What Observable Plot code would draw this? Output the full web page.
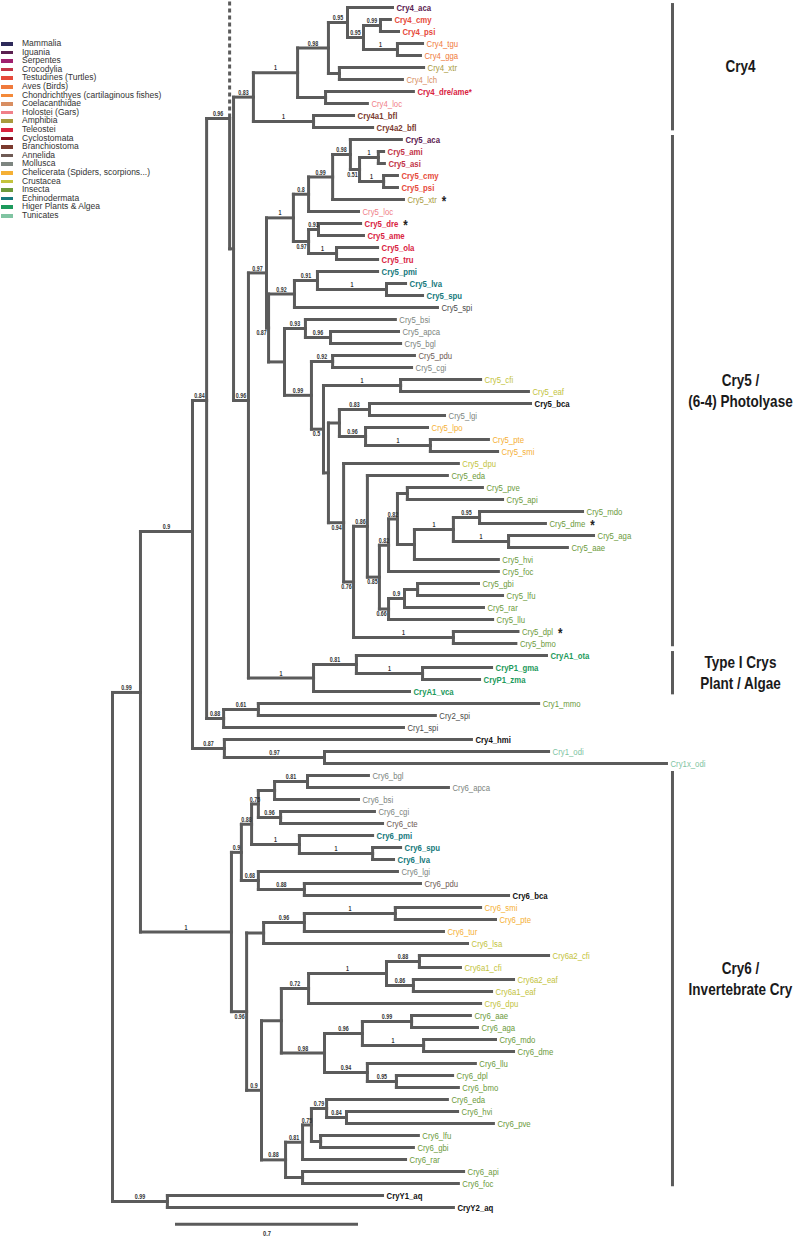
<!DOCTYPE html>
<html><head><meta charset="utf-8">
<script src="https://cdn.jsdelivr.net/npm/d3@7"></script>
<script src="https://cdn.jsdelivr.net/npm/@observablehq/plot@0.6"></script>
<style>
body{margin:0;background:#fff;}
#wrap{position:relative;width:800px;height:1238px;overflow:hidden;}
#legend{position:absolute;left:0;top:0;font-family:'Liberation Sans',Arial,sans-serif;font-size:8.5px;color:#333;}
.lg{position:absolute;left:0;white-space:nowrap;height:9px;line-height:9px;}
.sw{position:absolute;left:1px;top:3px;width:12px;height:3.5px;}
.lt{position:absolute;left:22px;top:0;}
</style></head><body><div id="wrap"><div id="legend"></div></div>
<script>
// ---- legend ----
const legendNames = ["Mammalia","Iguania","Serpentes","Crocodylia","Testudines (Turtles)","Aves (Birds)","Chondrichthyes (cartilaginous fishes)","Coelacanthidae","Holostei (Gars)","Amphibia","Teleostei","Cyclostomata","Branchiostoma","Annelida","Mollusca","Chelicerata (Spiders, scorpions...)","Crustacea","Insecta","Echinodermata","Higer Plants & Algea","Tunicates"];
const groupKeys = ["Mammalia","Iguania","Serpentes","Crocodylia","Testudines","Aves","Chondrichthyes","Coelacanthidae","Holostei","Amphibia","Teleostei","Cyclostomata","Branchiostoma","Annelida","Mollusca","Chelicerata","Crustacea","Insecta","Echinodermata","Plants","Tunicates","Other","Black"];
const groupColors = ["#2e2a5a","#5a2050","#a0206e","#c23447","#e64a3a","#f07a3c","#f48a3a","#d88e62","#f08088","#a89a3e","#d9233f","#8a1020","#7b3a2e","#6f5b55","#7d8580","#f5b035","#c3c33c","#6c9a3c","#16797c","#1d9a5c","#80c4a2","#4a4a4a","#111111"];
const boldGroups = ["Iguania","Crocodylia","Testudines","Teleostei","Echinodermata","Plants","Black","Branchiostoma"];

// ---- internal nodes: [id, parent, distance from root, support, label placement] ----
const nodeRows = [
["A","root",0.107,"0.99","a"],["NY","root",0.210,"0.99","a"],
["N192","A",0.306,"0.9","a"],["C6","A",0.455,"1","a"],
["N206","N192",0.360,"0.84","a"],["K87","N192",0.428,"0.87","a"],
["D","N206",0.448,"0.96","a"],["K88","N206",0.425,"0.88","a"],
["N233","D",0.463,"",""],
["C4","N233",0.539,"0.83","a"],["N248","N233",0.520,"0.96","a"],
["P","N248",0.589,"0.97","a"],["TI","N248",0.769,"1","a"],
["C4a","C4",0.708,"1","a"],["C4i","C4",0.769,"1","a"],
["C4b","C4a",0.826,"0.98","a"],["C4h","C4a",0.815,"",""],
["C4c","C4b",0.899,"0.95","a"],["C4g","C4b",0.868,"",""],
["C4d","C4c",0.960,"0.95","a"],["C4e","C4d",1.025,"0.99","a"],["C4f","C4d",1.090,"1","a"],
["V5","P",0.692,"1","a"],["Q","P",0.597,"0.87","b"],
["V5a","V5",0.750,"0.8","a"],["V5g","V5",0.750,"0.97","b"],
["V5b","V5a",0.842,"0.99","a"],["V5c","V5b",0.910,"0.98","a"],["V5d","V5c",0.945,"0.51","b"],
["V5e","V5d",1.017,"1","a"],["V5f","V5d",1.037,"1","a"],
["V5h","V5g",0.788,"0.93","a"],["V5i","V5g",0.857,"1","a"],
["E1","Q",0.696,"0.92","a"],["R","Q",0.658,"",""],
["E2","E1",0.784,"0.91","a"],["E3","E2",1.048,"1","a"],
["M1","R",0.738,"0.93","a"],["I0","R",0.761,"0.99","a"],["M2","M1",0.834,"0.96","a"],
["I1","I0",0.842,"0.92","a"],["I2","I0",0.807,"0.5","b"],["I3","I2",1.102,"1","a"],
["T","I2",0.826,"",""],["U","T",0.868,"",""],["V","T",0.884,"0.94","b"],
["U1","U",0.983,"0.83","a"],["U2","U",0.968,"0.96","a"],["U3","U2",1.216,"1","a"],
["W","V",0.922,"0.76","b"],["N86","W",0.975,"0.86","a"],["Ndb","W",1.304,"1","a"],
["N85","N86",1.021,"0.85","b"],["N82a","N85",1.056,"0.82","a"],["N66","N85",1.056,"0.66","b"],
["N82b","N82a",1.090,"0.82","a"],["Npa","N82b",1.128,"",""],["Nd","N82b",1.155,"",""],
["Nd1","Nd",1.304,"1","a"],["Nd2","Nd1",1.404,"0.95","a"],["Nd3","Nd1",1.515,"1","a"],
["N9","N66",1.117,"0.9","a"],["Ngl","N9",1.167,"",""],
["TI1","TI",0.933,"0.81","a"],["TI2","TI1",1.186,"1","a"],
["K61","K88",0.558,"0.61","a"],["K97","K87",0.811,"0.97","a"],
["C6a","C6",0.493,"0.9","a"],["C6k","C6",0.513,"0.96","b"],
["C6b","C6a",0.532,"0.88","a"],["C6i","C6a",0.558,"0.68","a"],
["C6c","C6b",0.558,"0.75","a"],["C6g","C6b",0.715,"1","a"],
["C6d","C6c",0.620,"",""],["C6f","C6c",0.643,"0.96","a"],["C6e","C6d",0.746,"0.81","a"],
["C6h","C6g",0.995,"1","a"],["C6j","C6i",0.734,"0.88","a"],
["C6l","C6k",0.578,"",""],["C6o","C6k",0.570,"0.9","a"],
["C6m","C6l",0.734,"0.96","a"],["C6n","C6m",1.082,"1","a"],
["C6p","C6o",0.646,"",""],["C6aa","C6o",0.662,"0.88","a"],
["C6q","C6p",0.750,"0.72","a"],["C6u","C6p",0.811,"0.98","a"],
["C6r","C6q",1.048,"1","a"],["C6s","C6r",1.174,"0.88","a"],["C6t","C6r",1.151,"0.86","a"],
["C6v","C6u",0.956,"0.96","a"],["C6y","C6u",0.975,"0.94","a"],
["C6w","C6v",1.144,"0.99","a"],["C6x","C6v",1.190,"1","a"],["C6z","C6y",1.086,"0.95","a"],
["C6ab","C6aa",0.727,"0.81","a"],["C6ag","C6aa",0.727,"",""],
["C6ac","C6ab",0.761,"0.75","a"],["C6ad","C6ac",0.819,"0.79","a"],["C6af","C6ac",0.796,"",""],
["C6ae","C6ad",0.895,"0.84","a"]
];
const pinnedRows = [["D",9.25],["N248",32.75],["N206",32.75],["N192",43.67],["A",57.08]];
// the branch that continues (dashed) to the cut-off part of the tree
const cutNodes = ["D"];

// ---- leaves (top to bottom): [name, group, parent, distance from root, star] ----
const leafRows = [
["Cry4_aca","Iguania","C4c",1.071],["Cry4_cmy","Testudines","C4e",1.063],["Cry4_psi","Testudines","C4e",1.094],
["Cry4_tgu","Aves","C4f",1.186],["Cry4_gga","Aves","C4f",1.178],["Cry4_xtr","Amphibia","C4g",1.190],
["Cry4_lch","Coelacanthidae","C4g",1.109],["Cry4_dre/ame*","Teleostei","C4h",1.151],["Cry4_loc","Holostei","C4h",0.975],
["Cry4a1_bfl","Branchiostoma","C4i",0.922],["Cry4a2_bfl","Branchiostoma","C4i",0.995],
["Cry5_aca","Iguania","V5c",1.105],["Cry5_ami","Crocodylia","V5e",1.037],["Cry5_asi","Crocodylia","V5e",1.040],
["Cry5_cmy","Testudines","V5f",1.090],["Cry5_psi","Testudines","V5f",1.090],["Cry5_xtr","Amphibia","V5b",1.113,1],
["Cry5_loc","Holostei","V5a",0.941],["Cry5_dre","Teleostei","V5h",0.949,1],["Cry5_ame","Teleostei","V5h",0.960],
["Cry5_ola","Teleostei","V5i",1.014],["Cry5_tru","Teleostei","V5i",1.014],
["Cry5_pmi","Echinodermata","E2",1.014],["Cry5_lva","Echinodermata","E3",1.121],["Cry5_spu","Echinodermata","E3",1.186],
["Cry5_spi","Other","E1",1.243],["Cry5_bsi","Mollusca","M1",1.082],["Cry5_apca","Mollusca","M2",1.094],
["Cry5_bgl","Mollusca","M2",1.102],["Cry5_pdu","Annelida","I1",1.155],["Cry5_cgi","Mollusca","I1",1.144],
["Cry5_cfi","Crustacea","I3",1.408],["Cry5_eaf","Crustacea","I3",1.591],["Cry5_bca","Black","U1",1.599],
["Cry5_lgi","Mollusca","U1",1.270],["Cry5_lpo","Chelicerata","U2",1.205],["Cry5_pte","Chelicerata","U3",1.438],
["Cry5_smi","Chelicerata","U3",1.473],["Cry5_dpu","Crustacea","V",1.323],["Cry5_eda","Insecta","N86",1.281],
["Cry5_pve","Insecta","Npa",1.415],["Cry5_api","Insecta","Npa",1.492],["Cry5_mdo","Insecta","Nd2",1.798],
["Cry5_dme","Insecta","Nd2",1.656,1],["Cry5_aga","Insecta","Nd3",1.840],["Cry5_aae","Insecta","Nd3",1.740],
["Cry5_hvi","Insecta","Nd",1.476],["Cry5_foc","Insecta","N82a",1.476],["Cry5_gbi","Insecta","Ngl",1.400],
["Cry5_lfu","Insecta","Ngl",1.492],["Cry5_rar","Insecta","N9",1.419],["Cry5_llu","Insecta","N66",1.454],
["Cry5_dpl","Insecta","Ndb",1.551,1],["Cry5_bmo","Insecta","Ndb",1.543],
["CryA1_ota","Plants","TI1",1.660],["CryP1_gma","Plants","TI2",1.450],["CryP1_zma","Plants","TI2",1.404],
["CryA1_vca","Plants","TI",1.136],["Cry1_mmo","Insecta","K61",1.630],["Cry2_spi","Other","K61",1.235],
["Cry1_spi","Other","K88",1.113],["Cry4_hmi","Black","K87",1.373],["Cry1_odi","Tunicates","K97",1.668],
["Cry1x_odi","Tunicates","K97",2.119],
["Cry6_bgl","Mollusca","C6e",0.979],["Cry6_apca","Mollusca","C6e",1.285],["Cry6_bsi","Mollusca","C6d",0.941],
["Cry6_cgi","Mollusca","C6f",1.002],["Cry6_cte","Annelida","C6f",1.033],["Cry6_pmi","Echinodermata","C6g",0.995],
["Cry6_spu","Echinodermata","C6h",1.102],["Cry6_lva","Echinodermata","C6h",1.075],["Cry6_lgi","Mollusca","C6i",1.090],
["Cry6_pdu","Annelida","C6j",1.178],["Cry6_bca","Black","C6j",1.515],["Cry6_smi","Chelicerata","C6n",1.408],
["Cry6_pte","Chelicerata","C6n",1.465],["Cry6_tur","Chelicerata","C6m",1.266],["Cry6_lsa","Crustacea","C6l",1.358],
["Cry6a2_cfi","Crustacea","C6s",1.668],["Cry6a1_cfi","Crustacea","C6s",1.331],["Cry6a2_eaf","Crustacea","C6t",1.534],
["Cry6a1_eaf","Crustacea","C6t",1.450],["Cry6_dpu","Crustacea","C6q",1.408],["Cry6_aae","Insecta","C6w",1.369],
["Cry6_aga","Insecta","C6w",1.396],["Cry6_mdo","Insecta","C6x",1.465],["Cry6_dme","Insecta","C6x",1.534],
["Cry6_llu","Insecta","C6y",1.388],["Cry6_dpl","Insecta","C6z",1.301],["Cry6_bmo","Insecta","C6z",1.323],
["Cry6_eda","Insecta","C6ad",1.281],["Cry6_hvi","Insecta","C6ae",1.320],["Cry6_pve","Insecta","C6ae",1.457],
["Cry6_lfu","Insecta","C6af",1.170],["Cry6_gbi","Insecta","C6af",1.151],["Cry6_rar","Insecta","C6ab",1.121],
["Cry6_api","Insecta","C6ag",1.343],["Cry6_foc","Insecta","C6ag",1.323],
["CryY1_aq","Black","NY",1.033],["CryY2_aq","Black","NY",1.304]
];

// ---- clades: [label lines, first leaf, last leaf] ----
const cladeRows = [
[["Cry4"],"Cry4_aca","Cry4a2_bfl"],
[["Cry5 /","(6-4) Photolyase"],"Cry5_aca","Cry5_bmo"],
[["Type I Crys","Plant / Algae"],"CryA1_ota","CryA1_vca"],
[["Cry6 /","Invertebrate Cry"],"Cry6_bgl","Cry6_foc"]
];
const scaleBarLength = 0.7;

// ---- build tree ----
const colorOf = g => groupColors[groupKeys.indexOf(g)];
const pinY = new Map(pinnedRows);
const nodes = new Map();
nodes.set("root",{id:"root",parent:null,depth:0,support:"",pos:"",children:[]});
for (const [id,parent,depth,support,pos] of nodeRows) nodes.set(id,{id,parent,depth,support,pos,children:[]});
for (const n of nodes.values()) if (n.parent) nodes.get(n.parent).children.push(n);
const leaves = leafRows.map(([name,group,parent,depth,star],i)=>({name,group,parent,depth,star:!!star,y:i,leaf:true,color:colorOf(group)}));
for (const l of leaves) nodes.get(l.parent).children.push(l);
function yOf(n){
  if (n.leaf) return n.y;
  const ys = n.children.map(yOf);
  if (pinY.has(n.id)) { n.y = pinY.get(n.id); ys.push(n.y); n.ymin=Math.min(...ys); n.ymax=Math.max(...ys); return n.y; }
  n.ymin = Math.min(...ys); n.ymax = Math.max(...ys);
  n.y = (n.ymin+n.ymax)/2; return n.y;
}
yOf(nodes.get("root"));
const all = [...nodes.values(), ...leaves];
const hSeg = all.filter(n=>n.parent).map(n=>({x1:nodes.get(n.parent).depth,x2:n.depth,y:n.y}));
const vSeg = [...nodes.values()].filter(n=>n.ymax>n.ymin).map(n=>({x:n.depth,y1:n.ymin,y2:n.ymax}));
const cutSeg = cutNodes.map(id=>nodes.get(id)).map(n=>({x:n.depth,y1:-0.5,y2:n.y}));
const sup = [...nodes.values()].filter(n=>n.support).map(n=>({...n,px:nodes.get(n.parent).depth}));
const leafIndex = new Map(leaves.map(l=>[l.name,l.y]));
const clades = cladeRows.map(([lines,a,b])=>({lines,y1:leafIndex.get(a)-0.33,y2:leafIndex.get(b)+0.28}));
const cladeText = clades.flatMap(c=>c.lines.map((t,k)=>({t,y:(c.y1+c.y2)/2+(k-(c.lines.length-1)/2)*1.75})));
const BAR_X = 2.142, CLADE_TX = 2.402;

const sans = "'Liberation Sans',Arial,sans-serif";
const LINE = "#5b5b5b";
const isBold = l => boldGroups.includes(l.group);

const chart = Plot.plot({
  width: 800, height: 1238, margin: 0,
  x: {domain:[0,2.6], range:[112,112+2.6*261.43], axis:null},
  y: {domain:[0,100], range:[7,1207], axis:null},
  marks: [
    Plot.link(cutSeg,{x1:"x",x2:"x",y1:"y1",y2:"y2",stroke:LINE,strokeWidth:3,strokeDasharray:"4,3"}),
    Plot.link(hSeg,{x1:"x1",x2:"x2",y1:"y",y2:"y",stroke:LINE,strokeWidth:3,strokeLinecap:"square"}),
    Plot.link(vSeg,{x1:"x",x2:"x",y1:"y1",y2:"y2",stroke:LINE,strokeWidth:3,strokeLinecap:"square"}),
    Plot.text(leaves.filter(isBold),{x:"depth",y:"y",text:"name",fill:"color",dx:4,textAnchor:"start",fontSize:9.5,fontWeight:"bold",fontFamily:sans,className:"narrow"}),
    Plot.text(leaves.filter(l=>!isBold(l)),{x:"depth",y:"y",text:"name",fill:"color",dx:4,textAnchor:"start",fontSize:9.5,fontFamily:sans,className:"narrow"}),
    Plot.text(sup.filter(d=>d.pos==="a"),{x:d=>(d.px+d.depth)/2,y:"y",text:"support",dy:-4.5,fontSize:6.5,fontWeight:"bold",fill:"#333",fontFamily:sans,className:"narrow"}),
    Plot.text(sup.filter(d=>d.pos==="b"),{x:"depth",y:"y",text:"support",dx:-7,dy:5,fontSize:6.5,fontWeight:"bold",fill:"#333",fontFamily:sans,className:"narrow"}),
    Plot.ruleX(clades,{x:BAR_X,y1:"y1",y2:"y2",stroke:LINE,strokeWidth:3}),
    Plot.text(cladeText,{x:CLADE_TX,y:"y",text:"t",fontSize:16.5,fontWeight:"bold",fill:"#1a1a1a",fontFamily:sans,className:"narrow"}),
    Plot.ruleY([101.4],{x1:0.241,x2:0.241+scaleBarLength,stroke:LINE,strokeWidth:3}),
    Plot.text([scaleBarLength],{x:0.241+scaleBarLength/2,y:102.2,text:d=>String(d),fontSize:7,fontWeight:"bold",fill:"#333",fontFamily:sans,className:"narrow"})
  ]
});
const wrap = document.getElementById("wrap");
wrap.insertBefore(chart, wrap.firstChild);
chart.style.position="absolute"; chart.style.left="0"; chart.style.top="0";
// condensed (Arial-Narrow-like) text: squeeze each label horizontally about its anchor
const SQ = 0.82;
chart.querySelectorAll("g.narrow text").forEach(t=>{
  const tr = t.getAttribute("transform") || "";
  t.setAttribute("transform", tr + ` scale(${SQ},1)`);
  const dx = t.getAttribute("dx");
  if (dx) t.setAttribute("dx", parseFloat(dx)/SQ);
});
const stars = new Set(leaves.filter(l=>l.star).map(l=>l.name));
chart.querySelectorAll("text").forEach(t=>{
  if (stars.has(t.textContent)) {
    const ts = document.createElementNS("http://www.w3.org/2000/svg","tspan");
    ts.textContent="*"; ts.setAttribute("dx","6"); ts.setAttribute("fill","#222");
    ts.setAttribute("font-size","14"); ts.setAttribute("font-weight","bold"); ts.setAttribute("dy","3");
    t.appendChild(ts);
  }
});
// legend
const lg = document.getElementById("legend");
legendNames.forEach((nm,k)=>{
  const row = document.createElement("div"); row.className="lg"; row.style.top=(39+k*8.6)+"px";
  const sw = document.createElement("div"); sw.className="sw"; sw.style.background=groupColors[k];
  const tx = document.createElement("div"); tx.className="lt"; tx.textContent=nm;
  row.appendChild(sw); row.appendChild(tx); lg.appendChild(row);
});
</script></body></html>
